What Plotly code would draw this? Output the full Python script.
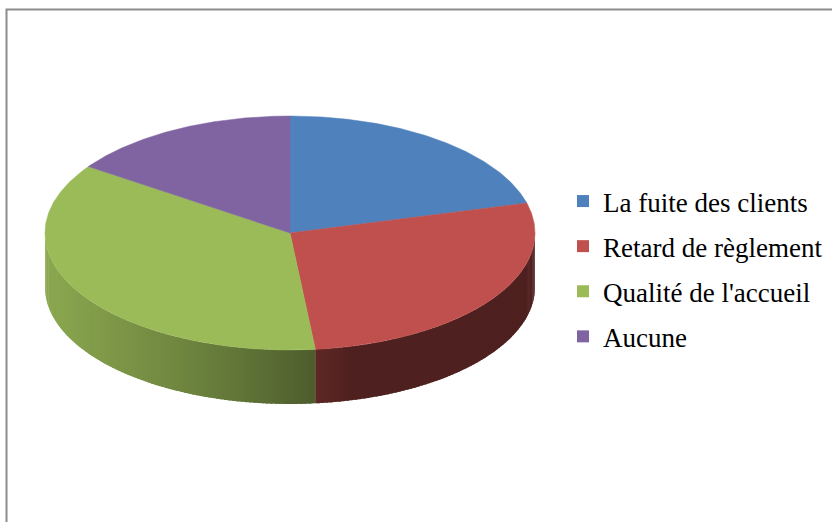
import numpy as np
import plotly.graph_objects as go

# Survey answers (counts per category)
categories = ["La fuite des clients", "Retard de règlement", "Qualité de l'accueil", "Aucune"]
counts = [19, 25, 33, 14]
colors = ["#4F81BD", "#C0504D", "#9BBB59", "#8064A2"]

W, H = 832, 522
# Tilted-disc geometry in pixel units
CX, CY, RX, RY, DEPTH = 290, 233, 245, 117, 54


def rim(theta_deg):
    """Point on the top ellipse, angle measured clockwise from 12 o'clock."""
    t = np.radians(theta_deg)
    return CX + RX * np.sin(t), CY - RY * np.cos(t)


def shade(hex_color, f):
    h = hex_color.lstrip("#")
    r, g, b = (int(h[i:i + 2], 16) for i in (0, 2, 4))
    return "rgb({},{},{})".format(int(r * f), int(g * f), int(b * f))


def wall_factor(x):
    t = (x - (CX - RX)) / (2 * RX)
    return 0.41 + 0.49 * max(0.0, 1 - t / 0.62) ** 0.8


fracs = np.array(counts, dtype=float) / sum(counts)
edges = np.concatenate([[0.0], np.cumsum(fracs) * 360.0])

fig = go.Figure()

# Side wall of the disc (only the front half, 90..270 degrees, is visible).
# Strips are painted from right to left, each one overlapping its neighbour.
STEP = 1.0
for i in range(len(colors) - 1, -1, -1):
    col = colors[i]
    lo, hi = max(edges[i], 90.0), min(edges[i + 1], 270.0)
    if lo >= hi:
        continue
    cuts = list(np.arange(lo, hi, STEP)) + [hi]
    for t0, t1 in zip(cuts[:-1], cuts[1:]):
        ts = np.linspace(t0, min(t1 + 0.6, hi), 4)
        xs, ys = rim(ts)
        px = np.concatenate([xs, xs[::-1], xs[:1]])
        py = np.concatenate([ys, ys[::-1] + DEPTH, ys[:1]])
        c = shade(col, wall_factor(xs.mean()))
        fig.add_trace(go.Scatter(
            x=px, y=py, mode="lines", fill="toself", fillcolor=c,
            line=dict(width=0), hoverinfo="skip", showlegend=False))

# Top faces of the slices
for i, (lab, col) in enumerate(zip(categories, colors)):
    ts = np.linspace(edges[i], edges[i + 1], 200)
    xs, ys = rim(ts)
    px = np.concatenate([[CX], xs, [CX]])
    py = np.concatenate([[CY], ys, [CY]])
    fig.add_trace(go.Scatter(
        x=px, y=py, mode="lines", fill="toself", fillcolor=col,
        line=dict(color=col, width=0.5), name=lab,
        hovertemplate=f"{lab}: {counts[i]}<extra></extra>", showlegend=False))

# Legend entries
for i, (lab, col) in enumerate(zip(categories, colors)):
    fig.add_trace(go.Scatter(
        x=[None], y=[None], mode="markers", name=lab, legendgroup=f"g{i}",
        marker=dict(symbol="square", size=12, color=col)))

fig.update_layout(
    width=W, height=H,
    margin=dict(l=0, r=0, t=0, b=0),
    paper_bgcolor="white", plot_bgcolor="white",
    xaxis=dict(range=[0, W], visible=False, fixedrange=True),
    yaxis=dict(range=[H, 0], visible=False, fixedrange=True),
    legend=dict(
        x=563 / W, y=1 - 269 / H, xanchor="left", yanchor="middle",
        font=dict(family="'Liberation Serif', 'Times New Roman', serif", size=27, color="black"),
        traceorder="grouped", tracegroupgap=7, bgcolor="rgba(0,0,0,0)"),
    shapes=[dict(type="rect", xref="x", yref="y", x0=6.5, y0=9.5, x1=W + 10, y1=H + 10,
                 line=dict(color="#8C8C8C", width=2), fillcolor="rgba(0,0,0,0)", layer="below")],
)

fig.write_html("out.html")
